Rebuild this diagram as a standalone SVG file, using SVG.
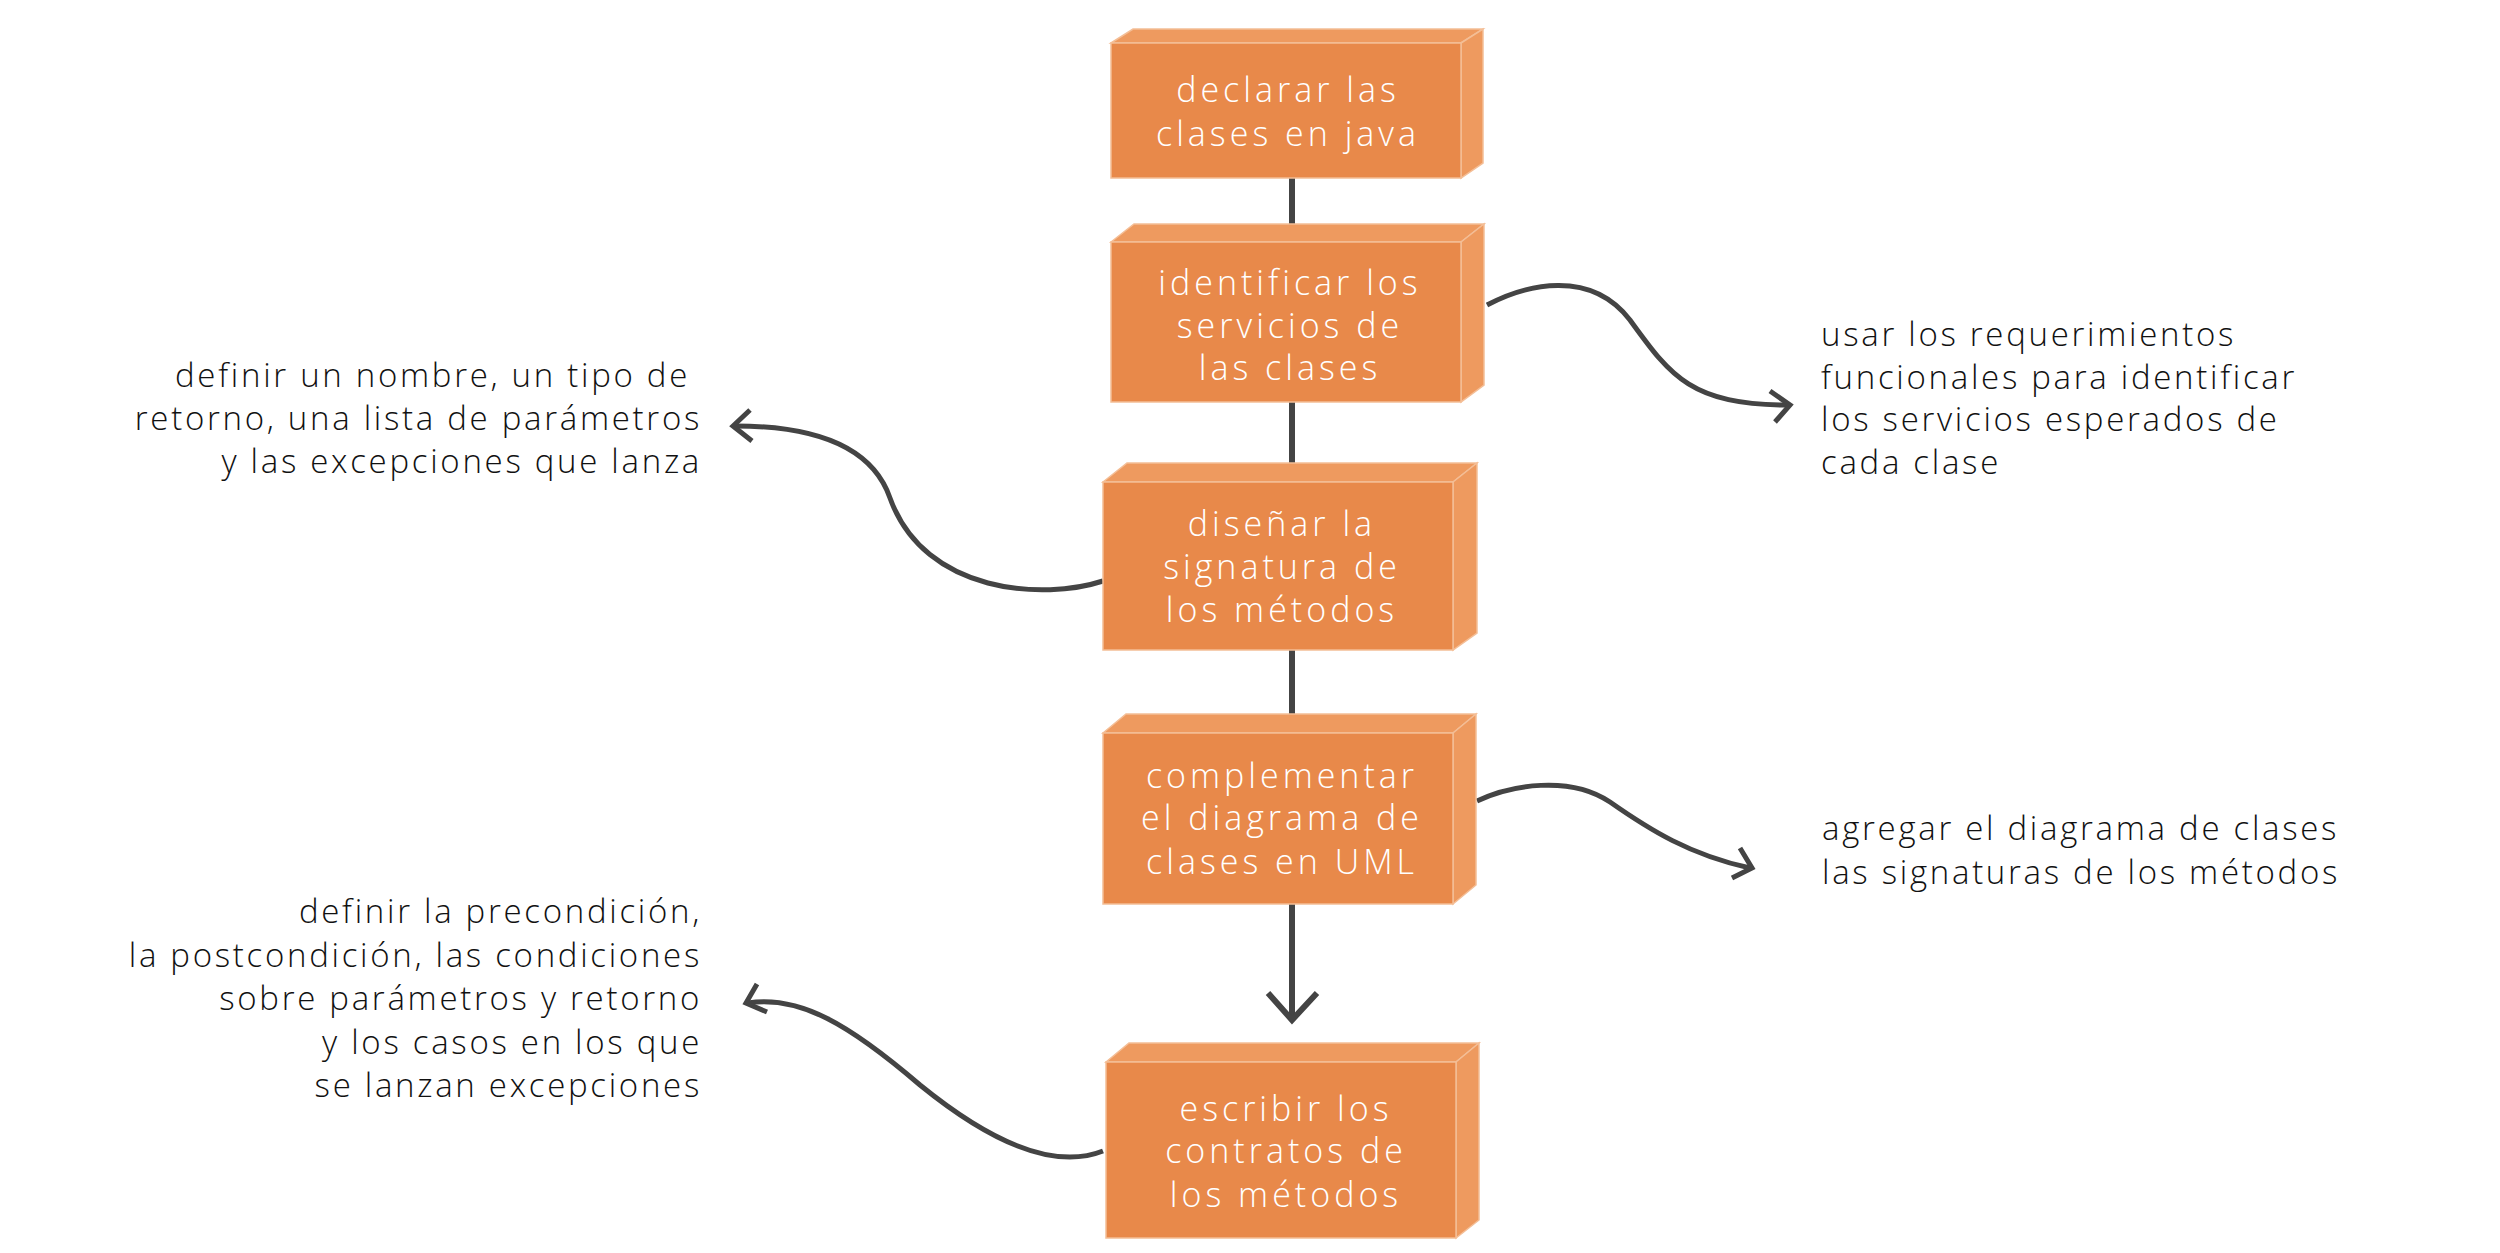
<svg xmlns="http://www.w3.org/2000/svg" width="2500" height="1253" viewBox="0 0 2500 1253">
<style>
.front{fill:#E8894A;stroke:#F4BE96;stroke-width:1.5}
.face{fill:#EE9A5F;stroke:#F4BE96;stroke-width:1.5}
.lbl{font-family:"Open Sans","Liberation Sans",sans-serif;font-weight:300;font-size:34px;letter-spacing:4px;fill:#ffffff;text-anchor:middle}
.note{font-family:"Open Sans","Liberation Sans",sans-serif;font-weight:300;font-size:33px;letter-spacing:2.7px;fill:#111111}
.end{text-anchor:end}
.stem{stroke:#444444;stroke-width:6;fill:none}
.curve{stroke:#444444;stroke-width:5;fill:none}
.head{stroke:#444444;stroke-width:5;fill:none;stroke-linejoin:miter}
</style>
<rect width="2500" height="1253" fill="#ffffff"/>
<g id="connectors">
<line class="stem" x1="1292" y1="178" x2="1292" y2="242"/>
<line class="stem" x1="1292" y1="402" x2="1292" y2="482"/>
<line class="stem" x1="1292" y1="650" x2="1292" y2="733"/>
<line class="stem" x1="1292" y1="904" x2="1292" y2="1018"/>
<polyline class="stem" points="1268,993 1292,1020 1317,993"/>
<path class="curve" d="M1487,305 C1525,285 1590,268 1630,320 C1670,375 1690,405 1788,405"/>
<polyline class="head" points="1770,391 1790,405 1775,422"/>
<path class="curve" d="M1477,801 C1510,785 1570,775 1610,802 C1650,830 1690,855 1750,868"/>
<polyline class="head" points="1740,848 1752,868 1732,878"/>
<path class="curve" d="M1103,581 C1045,600 925,595 890,498 C875,455 830,426 735,426"/>
<polyline class="head" points="750,410 733,426 752,441"/>
<path class="curve" d="M1103,1151 C1060,1168 1000,1150 920,1085 C850,1025 800,995 748,1003"/>
<polyline class="head" points="757,984 746,1003 767,1012"/>
</g>
<g id="n1">
<polygon class="face" points="1111,43 1133,29 1483,29 1461,43"/>
<polygon class="face" points="1461,43 1483,29 1483,163 1461,178"/>
<rect class="front" x="1111" y="43" width="350" height="135"/>
<text class="lbl" x="1288" y="102">declarar las</text>
<text class="lbl" x="1288" y="146">clases en java</text>
</g>
<g id="n2">
<polygon class="face" points="1111,242 1134,224 1484,224 1461,242"/>
<polygon class="face" points="1461,242 1484,224 1484,385 1461,402"/>
<rect class="front" x="1111" y="242" width="350" height="160"/>
<text class="lbl" x="1290" y="295">identificar los</text>
<text class="lbl" x="1290" y="338">servicios de</text>
<text class="lbl" x="1290" y="380">las clases</text>
</g>
<g id="n3">
<polygon class="face" points="1103,482 1127,463 1477,463 1453,482"/>
<polygon class="face" points="1453,482 1477,463 1477,633 1453,650"/>
<rect class="front" x="1103" y="482" width="350" height="168"/>
<text class="lbl" x="1282" y="536">diseñar la</text>
<text class="lbl" x="1282" y="579">signatura de</text>
<text class="lbl" x="1282" y="622">los métodos</text>
</g>
<g id="n4">
<polygon class="face" points="1103,733 1126,714 1476,714 1453,733"/>
<polygon class="face" points="1453,733 1476,714 1476,885 1453,904"/>
<rect class="front" x="1103" y="733" width="350" height="171"/>
<text class="lbl" x="1282" y="788">complementar</text>
<text class="lbl" x="1282" y="830">el diagrama de</text>
<text class="lbl" x="1282" y="874">clases en UML</text>
</g>
<g id="n5">
<polygon class="face" points="1106,1062 1129,1043 1479,1043 1456,1062"/>
<polygon class="face" points="1456,1062 1479,1043 1479,1220 1456,1238"/>
<rect class="front" x="1106" y="1062" width="350" height="176"/>
<text class="lbl" x="1286" y="1121">escribir los</text>
<text class="lbl" x="1286" y="1163">contratos de</text>
<text class="lbl" x="1286" y="1207">los métodos</text>
</g>
<g id="note-left-1">
<text class="note end" x="690" y="387">definir un nombre, un tipo de</text>
<text class="note end" x="702" y="430">retorno, una lista de parámetros</text>
<text class="note end" x="702" y="473">y las excepciones que lanza</text>
</g>
<g id="note-left-2">
<text class="note end" x="702" y="923">definir la precondición,</text>
<text class="note end" x="702" y="967">la postcondición, las condiciones</text>
<text class="note end" x="702" y="1010">sobre parámetros y retorno</text>
<text class="note end" x="702" y="1054">y los casos en los que</text>
<text class="note end" x="702" y="1097">se lanzan excepciones</text>
</g>
<g id="note-right-1">
<text class="note" x="1821" y="346">usar los requerimientos</text>
<text class="note" x="1821" y="389">funcionales para identificar</text>
<text class="note" x="1821" y="431">los servicios esperados de</text>
<text class="note" x="1821" y="474">cada clase</text>
</g>
<g id="note-right-2">
<text class="note" x="1822" y="840">agregar el diagrama de clases</text>
<text class="note" x="1822" y="884">las signaturas de los métodos</text>
</g>
</svg>
